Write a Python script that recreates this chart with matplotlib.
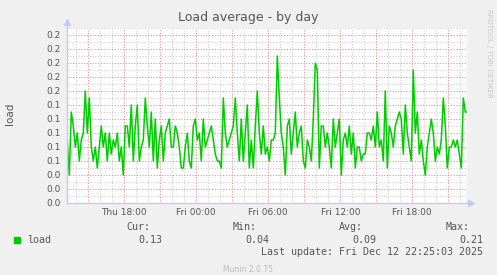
import matplotlib
matplotlib.use('Agg')
import matplotlib.pyplot as plt
import matplotlib.patches as mpatches
import numpy as np
import pandas as pd

W, H = 497, 275

# 10 minute samples of the load average
load = [0.09, 0.04, 0.13, 0.11, 0.08, 0.10, 0.06, 0.09, 0.10, 0.16, 0.10, 0.15, 0.08, 0.06, 0.08,
        0.05, 0.08, 0.11, 0.08, 0.10, 0.06, 0.10, 0.07, 0.09, 0.08, 0.10, 0.06, 0.08, 0.04,
        0.11, 0.11, 0.08, 0.14, 0.06, 0.11, 0.14, 0.06, 0.08, 0.09, 0.15, 0.11, 0.08, 0.13, 0.06,
        0.12, 0.05, 0.09, 0.11, 0.06, 0.10, 0.11, 0.12, 0.08, 0.08, 0.11, 0.10, 0.08, 0.05,
        0.05, 0.08, 0.10, 0.06, 0.05, 0.11, 0.12, 0.09, 0.10, 0.06, 0.12, 0.08, 0.09, 0.10, 0.11,
        0.09, 0.07, 0.06, 0.06, 0.05, 0.15, 0.10, 0.08, 0.09, 0.10, 0.11, 0.15, 0.10, 0.06,
        0.12, 0.06, 0.10, 0.14, 0.05, 0.09, 0.05, 0.11, 0.16, 0.10, 0.07, 0.11, 0.07, 0.08, 0.06,
        0.09, 0.09, 0.10, 0.21, 0.15, 0.10, 0.08, 0.04, 0.11, 0.12, 0.07, 0.10, 0.13, 0.08,
        0.10, 0.11, 0.06, 0.05, 0.09, 0.08, 0.06, 0.12, 0.20, 0.19, 0.05, 0.11, 0.11, 0.08, 0.10,
        0.08, 0.05, 0.12, 0.08, 0.10, 0.12, 0.04, 0.09, 0.10, 0.08, 0.11, 0.07, 0.10, 0.05,
        0.08, 0.08, 0.06, 0.07, 0.07, 0.10, 0.10, 0.09, 0.11, 0.08, 0.13, 0.08, 0.09, 0.06, 0.16,
        0.05, 0.11, 0.10, 0.08, 0.11, 0.12, 0.13, 0.12, 0.07, 0.14, 0.10, 0.08, 0.06, 0.19,
        0.10, 0.13, 0.07, 0.09, 0.06, 0.04, 0.08, 0.10, 0.12, 0.10, 0.06, 0.08, 0.07, 0.09, 0.15,
        0.11, 0.05, 0.08, 0.08, 0.09, 0.08, 0.09, 0.07, 0.05, 0.15, 0.13, 0.13]
times = pd.date_range('2025-12-11 13:15', periods=len(load), freq='10min')

view_start = pd.Timestamp('2025-12-11 13:12')
view_end = pd.Timestamp('2025-12-12 22:32')

tick_times = pd.date_range('2025-12-11 18:00', '2025-12-12 18:00', freq='6h')
tick_labels = ['Thu 18:00', 'Fri 00:00', 'Fri 06:00', 'Fri 12:00', 'Fri 18:00']
y_ticks = [0.00, 0.02, 0.04, 0.06, 0.08, 0.10, 0.12, 0.14, 0.16, 0.18, 0.20, 0.22, 0.24]
y_labels = ['0.0', '0.0', '0.0', '0.1', '0.1', '0.1', '0.1', '0.1', '0.2', '0.2', '0.2', '0.2', '0.2']
y_max = 0.25

stat_names = ['Cur:', 'Min:', 'Avg:', 'Max:']
stat_values = ['0.13', '0.04', '0.09', '0.21']
last_update = 'Last update: Fri Dec 12 22:25:03 2025'

GREEN = '#00CC00'
MAJOR = '#E89090'
MINOR = '#CFCFCF'
AXIS = '#C8C8F4'
TXT = '#555555'

fig = plt.figure(figsize=(W / 100, H / 100), dpi=100, facecolor='#F0F0F0')
ax = fig.add_axes([66.7 / W, 72 / H, 400 / W, 175 / H])
ax.set_facecolor('white')

# grid: red every 3h / 0.02, grey every 1h / 0.01
for t in pd.date_range('2025-12-11 14:00', view_end, freq='1h'):
    c = MAJOR if t.hour % 3 == 0 else MINOR
    ax.axvline(t, color=c, lw=0.8, ls=(0, (1, 1.5)), zorder=1)
for i in range(1, 26):
    c = MAJOR if i % 2 == 0 else MINOR
    ax.axhline(i * 0.01, color=c, lw=0.8, ls=(0, (1, 1.5)), zorder=1)

ax.plot(times, load, color=GREEN, lw=1.1, zorder=3)

ax.set_xlim(view_start, view_end)
ax.set_ylim(0, y_max)
ax.set_xticks(tick_times)
ax.set_xticklabels(tick_labels)
ax.set_yticks(y_ticks)
ax.set_yticklabels(y_labels)
ax.tick_params(axis='both', length=0, labelsize=6.5, labelcolor=TXT)
ax.tick_params(axis='y', pad=4.5)
ax.tick_params(axis='x', pad=3.5)
for s in ax.spines.values():
    s.set_visible(False)

# axis lines with arrows, rrdtool style
ax.plot([0, 0], [0, 1.035], color=AXIS, lw=1, transform=ax.transAxes, clip_on=False, zorder=4)
ax.plot([0, 1.01], [0, 0], color=AXIS, lw=1, transform=ax.transAxes, clip_on=False, zorder=4)
ax.plot([0], [1.035], marker='^', ms=4, color=AXIS, transform=ax.transAxes, clip_on=False)
ax.plot([1.01], [0], marker='>', ms=4, color=AXIS, transform=ax.transAxes, clip_on=False)

def fy(y):
    return 1 - y / H

fig.text(248 / W, fy(18), 'Load average - by day', ha='center', va='center', fontsize=9, color=TXT)
fig.text(10 / W, fy(114), 'load', ha='center', va='center', rotation=90, fontsize=7.5, color=TXT)
fig.text(489 / W, fy(53), 'RRDTOOL / TOBI OETIKER', ha='center', va='center', rotation=270,
         fontsize=5, color='#C8C8C8')

mono = dict(family='DejaVu Sans Mono', fontsize=7.2, color=TXT, va='center')
fig.patches.append(mpatches.Rectangle((14 / W, fy(243)), 6 / W, 6 / H, color=GREEN,
                                      transform=fig.transFigure, figure=fig))
fig.text(27 / W, fy(240), 'load', ha='left', **mono)
name_x = [150, 257, 363, 470]
val_x = [162, 269, 376, 483]
for n, v, nx, vx in zip(stat_names, stat_values, name_x, val_x):
    fig.text(nx / W, fy(227), n, ha='right', **mono)
    fig.text(vx / W, fy(240), v, ha='right', **mono)
fig.text(483 / W, fy(252), last_update, ha='right', **mono)
fig.text(248 / W, fy(270), 'Munin 2.0.75', ha='center', va='center', fontsize=5.5, color='#BBBBBB')

fig.savefig('out.png', dpi=100, facecolor=fig.get_facecolor())
